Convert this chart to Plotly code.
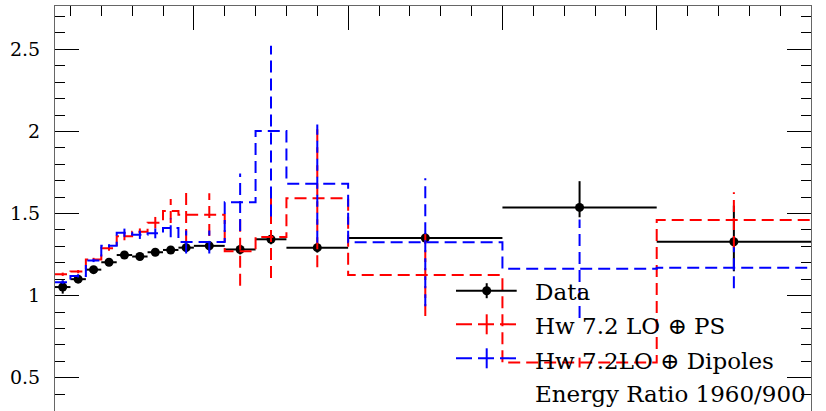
import plotly.graph_objects as go

# ---------------- data ----------------
bin_edges = [55, 60, 65, 70, 75, 80, 85, 90, 95, 100, 110, 120, 130, 150, 200, 250, 300]

data_val = [1.052, 1.100, 1.158, 1.203, 1.247, 1.238, 1.264, 1.278, 1.292, 1.303,
            1.281, 1.343, 1.292, 1.351, 1.537, 1.328]
data_err_up = [0.04, 0.02, 0.015, 0.015, 0.015, 0.015, 0.015, 0.015, 0.02, 0.03,
               0.03, 0.03, 0.03, 0.03, 0.16, 0.22]
data_err_dn = [0.04, 0.02, 0.015, 0.015, 0.015, 0.015, 0.015, 0.015, 0.02, 0.03,
               0.03, 0.03, 0.03, 0.03, 0.06, 0.18]

ps_val = [1.130, 1.146, 1.220, 1.288, 1.362, 1.389, 1.444, 1.515, 1.493, 1.493,
          1.270, 1.357, 1.593, 1.125, 0.592, 1.460]
ps_err = [0.01, 0.01, 0.01, 0.015, 0.025, 0.02, 0.035, 0.073, 0.16, 0.13,
          0.21, 0.25, 0.42, 0.25, 0.03, 0.17]

dip_val = [1.082, 1.120, 1.214, 1.303, 1.383, 1.370, 1.379, 1.412, 1.327, 1.327,
           1.568, 2.002, 1.682, 1.325, 1.164, 1.170]
dip_err = [0.01, 0.01, 0.01, 0.01, 0.025, 0.025, 0.03, 0.057, 0.07, 0.07,
           0.175, 0.52, 0.36, 0.39, 0.30, 0.125]

y_tick_vals = [0.5, 1, 1.5, 2, 2.5]
y_tick_text = ["0.5", "1", "1.5", "2", "2.5"]
x_major_ticks = [100, 150, 200, 250, 300]

legend_labels = ["Data", "Hw 7.2 LO ⊕ PS", "Hw 7.2LO ⊕ Dipoles"]
extra_label = "Energy Ratio 1960/900"

# ---------------- derived ----------------
centers = [(a + b) / 2 for a, b in zip(bin_edges[:-1], bin_edges[1:])]
halfw = [(b - a) / 2 for a, b in zip(bin_edges[:-1], bin_edges[1:])]

FONT = "DejaVu Serif"
RED = "#ff0000"
BLUE = "#0000ff"
DASH = "12px,6px"

fig = go.Figure()

# data (drawn first, MC on top)
fig.add_trace(go.Scatter(
    x=centers, y=data_val, mode="markers",
    marker=dict(symbol="circle", size=9, color="black"),
    error_x=dict(type="data", array=halfw, symmetric=True, width=0, thickness=2, color="black"),
    error_y=dict(type="data", array=data_err_up, arrayminus=data_err_dn, symmetric=False,
                 width=0, thickness=2, color="black"),
    cliponaxis=True,
))


def add_mc(vals, errs, color):
    fig.add_trace(go.Scatter(
        x=bin_edges, y=vals + [vals[-1]], mode="lines",
        line=dict(shape="hv", color=color, width=2, dash=DASH),
    ))
    xs, ys = [], []
    for c, v, e in zip(centers, vals, errs):
        xs += [c, c, None]
        ys += [v - e, v + e, None]
    fig.add_trace(go.Scatter(
        x=xs, y=ys, mode="lines", connectgaps=False,
        line=dict(color=color, width=2, dash=DASH),
    ))


add_mc(ps_val, ps_err, RED)
add_mc(dip_val, dip_err, BLUE)

# ---------------- legend (hand-drawn) ----------------
L, R, T, B = 55, 811, 6, 411


def px(p):
    return (p - L) / (R - L)


def py(p):
    return (B - p) / (B - T)


sx0, sx1, sxc = 456, 516.7, 486.7
rows = [290.7, 324.3, 358.3]
text_rows = [292, 326, 360.5, 393.5]
shapes = []
# Data sample
shapes.append(dict(type="line", xref="paper", yref="paper", x0=px(sx0), x1=px(sx1),
                   y0=py(rows[0]), y1=py(rows[0]), line=dict(color="black", width=2)))
shapes.append(dict(type="line", xref="paper", yref="paper", x0=px(sxc), x1=px(sxc),
                   y0=py(rows[0] - 7.5), y1=py(rows[0] + 7.5), line=dict(color="black", width=2)))
shapes.append(dict(type="circle", xref="paper", yref="paper", xsizemode="pixel", ysizemode="pixel",
                   xanchor=px(sxc), yanchor=py(rows[0]), x0=-4.5, x1=4.5, y0=-4.5, y1=4.5,
                   fillcolor="black", line=dict(color="black", width=0)))
for r, col in zip(rows[1:], [RED, BLUE]):
    shapes.append(dict(type="line", xref="paper", yref="paper", x0=px(sx0), x1=px(sx1),
                       y0=py(r), y1=py(r), line=dict(color=col, width=2, dash="16px,6px")))
    shapes.append(dict(type="line", xref="paper", yref="paper", x0=px(sxc), x1=px(sxc),
                       y0=py(r - 10), y1=py(r + 10), line=dict(color=col, width=2)))

annotations = []
for lab, r in zip(legend_labels + [extra_label], text_rows):
    annotations.append(dict(text=lab, xref="paper", yref="paper", x=px(533), y=py(r),
                            xanchor="left", yanchor="middle", showarrow=False,
                            font=dict(family=FONT, size=23, color="black")))

fig.update_layout(
    width=826, height=411,
    margin=dict(l=L, r=826 - R, t=T, b=0, autoexpand=False),
    plot_bgcolor="white", paper_bgcolor="white",
    showlegend=False,
    shapes=shapes, annotations=annotations,
    xaxis=dict(
        range=[55, 300], side="top", showline=True, linecolor="#666", linewidth=1,
        mirror=False, ticks="inside", ticklen=24, tickcolor="black", tickwidth=1,
        tickmode="array", tickvals=x_major_ticks, showticklabels=False,
        minor=dict(ticks="inside", ticklen=10, dtick=10, tick0=0, tickcolor="black", tickwidth=1),
        showgrid=False, zeroline=False, fixedrange=True,
    ),
    yaxis=dict(
        range=[0.297, 2.764], showline=True, linecolor="#666", linewidth=1,
        mirror="ticks", ticks="inside", ticklen=24, tickcolor="black", tickwidth=1,
        tickmode="array", tickvals=y_tick_vals, ticktext=y_tick_text,
        tickfont=dict(family=FONT, size=19, color="black"), ticklabelstandoff=10,
        minor=dict(ticks="inside", ticklen=10, dtick=0.1, tick0=0, tickcolor="black", tickwidth=1),
        showgrid=False, zeroline=False, fixedrange=True,
    ),
)

fig.write_html(
    "out.html",
    config={"displayModeBar": False},
    post_script="document.body.style.margin='0';document.body.style.overflow='hidden';",
)
